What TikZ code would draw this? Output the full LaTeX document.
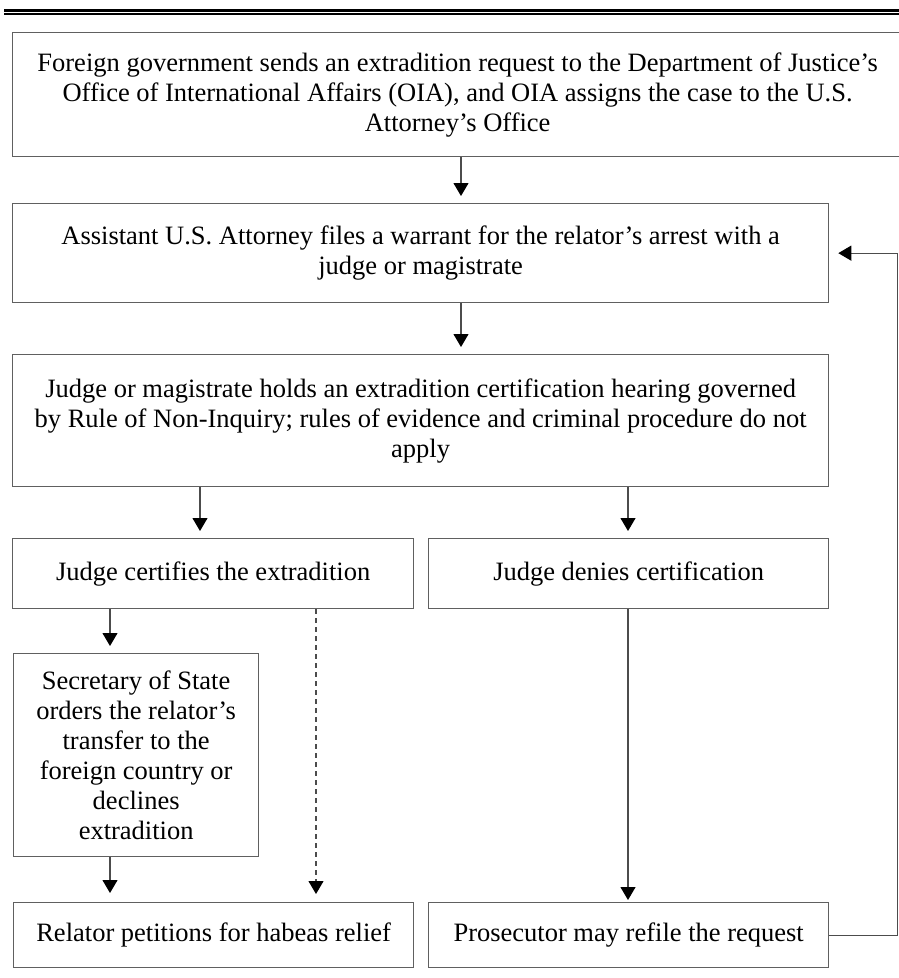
\documentclass[tikz,border=0pt]{standalone}
\usepackage{fontspec}
\setmainfont{Liberation Serif}
\usetikzlibrary{arrows.meta}
\begin{document}
\begin{tikzpicture}[x=1pt,y=-1pt,
  box/.style={draw=gray!75!black, line width=1.3pt, inner sep=0pt, anchor=north west,
     align=center, font=\fontsize{26.5}{30}\selectfont},
  arr/.style={draw=gray!60!black, line width=1.1pt,
     -{Triangle[length=13pt,width=15pt,fill=black,color=black]}, shorten >=7pt},
  darr/.style={arr, dashed, dash pattern=on 5pt off 4pt}]
\useasboundingbox (0,0) rectangle (898,978);
% top double rule
\draw[line width=3pt] (4,10.5) -- (900,10.5);
\draw[line width=2.2pt] (4,14.3) -- (900,14.3);
% boxes
\node[box, minimum width=890pt, minimum height=124pt] (b1) at (12,32)
  {Foreign government sends an extradition request to the Department of Justice’s\\
   Office of International Affairs (OIA), and OIA assigns the case to the U.S.\\
   Attorney’s Office};
\node[box, minimum width=816pt, minimum height=99pt] (b2) at (12,203)
  {Assistant U.S. Attorney files a warrant for the relator’s arrest with a\\
   judge or magistrate};
\node[box, minimum width=816pt, minimum height=132pt] (b3) at (12,354)
  {Judge or magistrate holds an extradition certification hearing governed\\
   by Rule of Non-Inquiry; rules of evidence and criminal procedure do not\\
   apply};
\node[box, minimum width=401pt, minimum height=70pt] (b4) at (12,538)
  {Judge certifies the extradition};
\node[box, minimum width=400pt, minimum height=70pt] (b5) at (428,538)
  {Judge denies certification};
\node[box, minimum width=245pt, minimum height=203pt] (b6) at (13,653)
  {Secretary of State\\ orders the relator’s\\ transfer to the\\ foreign country or\\ declines\\ extradition};
\node[box, minimum width=400pt, minimum height=65pt] (b7) at (13,902)
  {Relator petitions for habeas relief};
\node[box, minimum width=400pt, minimum height=65pt] (b8) at (428,902)
  {Prosecutor may refile the request};
% connector x positions
\coordinate (xa) at (461,0);
\coordinate (xb) at (200,0);
\coordinate (xc) at (628,0);
\coordinate (xd) at (110,0);
\coordinate (xe) at (316,0);
\draw[arr] (b1.south -| xa) -- (b2.north -| xa);
\draw[arr] (b2.south -| xa) -- (b3.north -| xa);
\draw[arr] (b3.south -| xb) -- (b4.north -| xb);
\draw[arr] (b3.south -| xc) -- (b5.north -| xc);
\draw[arr] (b4.south -| xd) -- (b6.north -| xd);
\draw[arr, shorten >=9pt] (b6.south -| xd) -- (b7.north -| xd);
\draw[darr, shorten >=8pt] (b4.south -| xe) -- (b7.north -| xe);
\draw[arr, shorten >=2pt] (b5.south -| xc) -- (b8.north -| xc);
\draw[arr, shorten >=9pt] (b8.east) -- ++(68,0) |- (b2.east);
\end{tikzpicture}
\end{document}
